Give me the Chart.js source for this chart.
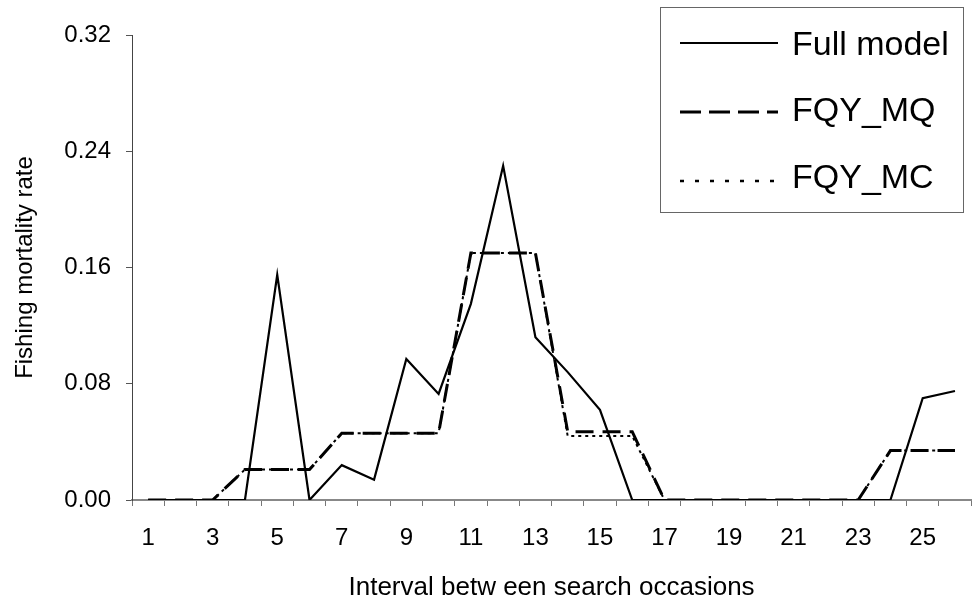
<!DOCTYPE html>
<html>
<head>
<meta charset="utf-8">
<script src="https://cdn.jsdelivr.net/npm/chart.js@4/dist/chart.umd.min.js"></script>
<style>
  body { margin: 0; background: #fff; }
  #wrap { width: 973px; height: 603px; }
</style>
</head>
<body>
<div id="wrap"><canvas id="fishChart" width="973" height="603"></canvas></div>
<script>
// intervals between search occasions
const intervals = ['1','2','3','4','5','6','7','8','9','10','11','12','13','14','15','16','17','18','19','20','21','22','23','24','25','26'];
const fullModel = [0, 0, 0, 0, 0.155, 0, 0.024, 0.014, 0.097, 0.073, 0.135, 0.230, 0.112, 0.088, 0.062, 0, 0, 0, 0, 0, 0, 0, 0, 0, 0.070, 0.075];
const fqyMQ =     [0, 0, 0, 0.021, 0.021, 0.021, 0.046, 0.046, 0.046, 0.046, 0.170, 0.170, 0.170, 0.047, 0.047, 0.047, 0, 0, 0, 0, 0, 0, 0, 0.034, 0.034, 0.034];
const fqyMC =     [0, 0, 0, 0.021, 0.021, 0.021, 0.046, 0.046, 0.046, 0.046, 0.170, 0.170, 0.170, 0.044, 0.044, 0.044, 0, 0, 0, 0, 0, 0, 0, 0.034, 0.034, 0.034];
const yTicks = [0, 0.08, 0.16, 0.24, 0.32];

const FONT = '"Liberation Sans", Arial, sans-serif';

// legend drawn inside the plot area, like the original
const boxLegend = {
  id: 'boxLegend',
  afterDraw(chart) {
    const ctx = chart.ctx;
    const x0 = 660, y0 = 7, x1 = 963, y1 = 212;
    ctx.save();
    ctx.fillStyle = '#fff';
    ctx.fillRect(x0, y0, x1 - x0, y1 - y0);
    ctx.strokeStyle = '#666';
    ctx.lineWidth = 1;
    ctx.strokeRect(x0 + 0.5, y0 + 0.5, x1 - x0, y1 - y0);
    const lineY = [43, 112, 181];
    const textY = [45, 111, 178];
    const dashes = [[], [21, 8], [4, 11]];
    const widths = [2, 3, 2.5];
    chart.data.datasets.forEach((ds, i) => {
      ctx.beginPath();
      ctx.setLineDash(dashes[i]);
      ctx.lineWidth = widths[i];
      ctx.strokeStyle = '#000';
      ctx.moveTo(680, lineY[i]);
      ctx.lineTo(778, lineY[i]);
      ctx.stroke();
      ctx.setLineDash([]);
      ctx.fillStyle = '#000';
      ctx.font = '34px ' + FONT;
      ctx.textBaseline = 'middle';
      ctx.fillText(ds.label, 792, textY[i] + 1);
    });
    ctx.restore();
  }
};

new Chart(document.getElementById('fishChart').getContext('2d'), {
  type: 'line',
  data: {
    labels: intervals,
    datasets: [
      { label: 'Full model', data: fullModel, borderColor: '#000', borderWidth: 2.2, pointRadius: 0, tension: 0 },
      { label: 'FQY_MQ', data: fqyMQ, borderColor: '#000', borderWidth: 3, borderDash: [18, 9], pointRadius: 0, tension: 0 },
      { label: 'FQY_MC', data: fqyMC, borderColor: '#000', borderWidth: 2, borderDash: [3, 4], pointRadius: 0, tension: 0 }
    ]
  },
  options: {
    responsive: false,
    animation: false,
    layout: { padding: { top: 35, right: 1, left: 0, bottom: 0 } },
    plugins: { legend: { display: false }, tooltip: { enabled: false } },
    scales: {
      x: {
        offset: true,
        grid: { offset: true, drawOnChartArea: false, drawTicks: true, tickLength: 6, color: '#777', lineWidth: 1 },
        border: { color: '#888', width: 2 },
        ticks: {
          autoSkip: false, maxRotation: 0, color: '#000', padding: 18,
          font: { family: FONT, size: 24 },
          callback: (v, i) => (i % 2 === 0 ? intervals[i] : '')
        },
        title: { display: true, text: 'Interval betw een search occasions', color: '#000', font: { family: FONT, size: 26 }, padding: { top: 0, bottom: 0 } },
        afterFit: s => { s.height = 103; }
      },
      y: {
        min: 0, max: 0.32,
        grid: { drawOnChartArea: false, drawTicks: true, tickLength: 6, color: '#555' },
        border: { color: '#444', width: 1 },
        afterBuildTicks: s => { s.ticks = yTicks.map(v => ({ value: v })); },
        ticks: { color: '#000', padding: 15, font: { family: FONT, size: 24 }, callback: v => v.toFixed(2) },
        title: { display: true, text: 'Fishing mortality rate', color: '#000', font: { family: FONT, size: 24 }, padding: { top: 11, bottom: 0 } },
        afterFit: s => { s.width = 132; }
      }
    }
  },
  plugins: [boxLegend]
});
</script>
</body>
</html>
